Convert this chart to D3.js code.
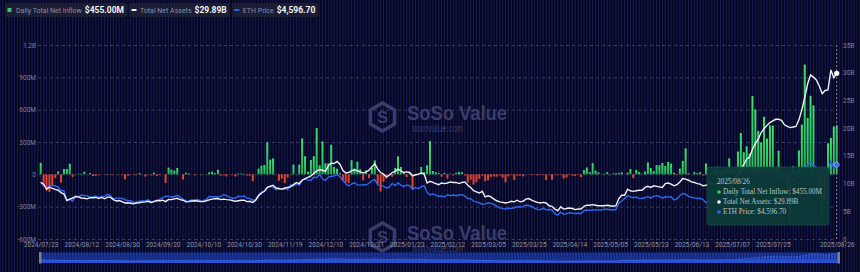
<!DOCTYPE html>
<html><head><meta charset="utf-8">
<script src="https://cdn.jsdelivr.net/npm/d3@7/dist/d3.min.js"></script>
<style>html,body{margin:0;padding:0;background:#06071a;overflow:hidden}svg{display:block}</style>
</head><body><svg id="c" width="860" height="272"></svg>
<script>
// ---------------- DATA ----------------
const startDate = "2024-07-23", endDate = "2025-08-26";
const holidays = ["2024-09-02","2024-11-28","2024-12-25","2025-01-01","2025-01-09","2025-01-20","2025-02-17","2025-04-18","2025-05-26","2025-06-19","2025-07-04"];
// Daily total net inflow ($M)
const inflow = [
 106.6,-113.3,-152.3,-162.7,-98.3,-33.7,26.7,
 -77.2,48.8,48.7,98.4,-23.7,-2.0,5.8,4.9,24.3,-0.2,10.8,-15.7,-13.5,-6.5,-0.9,-0.8,-5.7,2.8,-3.5,-0.2,-1.8,-5.2,
 -47.4,-12.0,-0.2,-6.0,-5.2,11.4,-0.1,-20.1,1.1,-9.4,15.1,-15.1,-5.2,-0.9,-79.4,62.5,43.2,33.6,58.7,0.7,
 -48.6,14.5,7.4,-0.1,-8.2,0.0,-3.2,1.7,-2.0,18.8,24.2,10.5,43.0,-12.0,-8.1,-19.2,-1.1,-6.5,-19.2,6.4,7.6,4.3,-10.9,
 -10.9,-63.2,0.0,52.3,79.7,85.9,295.5,135.9,146.9,-3.2,-59.8,-39.1,-81.3,-30.3,2.8,91.2,2.8,90.1,332.9,167.7,
 24.2,132.6,167.7,428.5,83.8,305.7,102.1,102.0,273.7,68.0,52.0,10.0,-60.5,-75.1,-80.0,130.8,53.6,117.2,47.1,-55.4,35.9,
 -35.0,58.9,128.7,-86.8,-159.4,-68.6,-39.4,5.0,-22.0,59.8,166.6,68.0,14.0,-25.0,12.0,-136.2,-15.0,-8.0,67.8,22.0,
 83.5,307.8,30.0,18.9,10.7,-22.5,12.6,-40.0,5.0,-8.0,14.0,22.0,20.0,-10.0,-78.1,-50.1,-94.3,-71.3,-41.8,
 -12.0,-63.3,-55.0,-23.1,-20.0,-21.6,-10.4,-30.0,-73.6,-20.0,-7.3,-52.8,-12.0,-11.8,-18.6,0.0,-3.3,-5.9,-4.2,-8.3,-6.3,
 -3.6,-52.8,-3.6,-49.8,-3.3,-7.9,-3.3,-38.3,-29.8,-5.0,-12.0,-15.0,-5.0,-25.0,38.8,63.5,20.0,104.1,35.0,18.4,-2.3,
 5.0,20.0,-3.0,8.0,10.0,12.0,18.0,-2.0,15.0,50.0,-35.0,41.7,22.0,5.0,25.0,110.5,58.0,30.0,84.9,84.0,105.0,
 78.2,115.0,99.0,15.0,-6.0,52.7,124.9,240.3,10.0,-2.1,21.4,11.1,19.1,-11.3,100.8,-5.0,20.0,30.0,70.0,15.0,
 40.7,64.1,148.5,62.1,46.3,211.3,383.1,204.9,259.0,192.3,726.7,602.0,402.5,296.5,533.9,332.2,453.8,452.7,65.1,218.6,5.8,17.0,
 -152.3,-465.1,73.3,35.1,222.3,461.7,1018.7,523.9,729.1,639.6,-59.3,-196.6,-429.7,-240.1,287.6,337.7,443.9,455.0
];
// Total net assets ($B)
const netAssets = [
 10.24,9.90,9.02,9.35,9.15,8.95,8.80,
 8.35,8.1,6.95,7.2,7.4,7.65,7.6,7.4,7.35,7.25,7.45,7.45,7.5,7.3,7.5,7.25,7.55,7.55,7.1,6.85,6.95,6.75,
 6.5,6.55,6.45,6.35,6.5,6.55,6.65,6.7,6.8,6.6,6.75,6.95,6.9,7.0,6.75,7.15,7.1,7.25,7.35,7.1,
 7.0,6.7,6.75,6.85,6.9,6.85,6.75,6.75,6.9,7.05,7.2,7.25,7.3,7.1,7.2,7.1,7.05,6.95,6.8,6.9,7.0,7.0,6.75,
 6.8,6.6,7.0,7.8,8.3,8.6,9.3,9.5,9.7,9.2,9.1,9.0,9.2,9.3,9.4,9.8,10.2,10.0,10.6,10.9,
 11.1,11.4,11.8,12.3,12.5,12.4,12.2,13.2,13.7,13.6,14.0,13.5,12.4,11.9,12.0,12.3,12.5,12.3,12.1,11.9,12.1,
 12.4,13.0,13.6,12.6,12.0,11.7,11.2,11.5,12.0,12.2,12.6,12.3,12.0,12.1,12.0,11.4,11.6,11.7,11.9,11.7,
 10.1,10.4,10.2,10.0,9.8,10.1,10.0,10.1,10.3,10.2,10.2,10.0,10.2,10.3,9.7,9.3,8.7,8.5,8.3,
 8.6,7.6,7.8,7.6,7.2,6.9,6.7,6.6,6.5,6.6,6.8,6.7,7.0,6.7,6.8,7.2,7.3,7.0,6.8,6.6,6.5,
 6.6,6.5,6.0,5.9,5.4,5.1,5.8,5.4,5.5,5.6,5.5,5.3,5.4,5.4,5.9,6.1,6.1,6.2,6.1,6.0,6.0,
 6.0,6.1,6.0,5.9,6.0,7.3,7.9,7.9,9.0,8.7,8.6,8.7,8.8,8.8,9.3,9.5,9.3,9.6,9.5,9.4,9.3,
 10.0,10.1,9.9,9.6,9.8,10.3,10.9,10.8,10.6,10.3,10.2,10.0,9.9,9.6,9.7,9.9,10.0,9.9,10.1,10.0,
 10.2,10.6,10.9,10.6,10.8,11.6,12.6,13.4,14.4,14.8,16.2,17.2,18.0,19.2,19.9,20.5,21.0,21.3,21.6,21.6,21.4,20.6,
 20.3,20.1,20.2,20.3,21.5,23.3,25.5,28.0,29.6,29.2,28.7,27.6,26.2,26.8,26.9,30.5,29.1,29.89
];
// ETH price ($)
const ethPrice = [
 3480,3340,3170,3280,3320,3280,3230,
 2980,2990,2420,2460,2340,2680,2600,2720,2700,2660,2590,2610,2640,2570,2630,2620,2760,2680,2460,2530,2530,2510,
 2430,2370,2370,2260,2300,2340,2350,2360,2420,2300,2340,2370,2460,2560,2640,2650,2580,2630,2700,2600,
 2450,2360,2350,2410,2420,2440,2370,2390,2440,2630,2610,2610,2600,2640,2750,2670,2590,2520,2520,2640,2620,2660,2520,
 2510,2400,2430,2720,2900,2960,3180,3270,3190,3060,3100,3080,3110,3060,3350,3280,3420,3320,3650,3700,
 3640,3620,3830,3790,4000,3710,3630,3830,3880,3900,3980,3850,3630,3420,3280,3400,3490,3330,3330,3360,3340,
 3450,3600,3690,3350,3320,3270,3140,3220,3440,3300,3470,3330,3240,3340,3300,3060,3180,3110,3240,3300,
 2880,2730,2790,2720,2630,2660,2600,2740,2680,2720,2680,2720,2740,2660,2500,2490,2340,2300,2240,
 2150,2170,2240,2200,2140,2020,1920,1880,1860,1910,1890,1930,2010,1980,2000,2090,2070,2010,1890,1830,1820,
 1900,1800,1820,1810,1550,1470,1670,1520,1570,1620,1590,1580,1590,1580,1750,1790,1770,1790,1800,1800,1790,
 1840,1840,1810,1815,1810,2210,2350,2500,2680,2610,2550,2600,2500,2520,2550,2630,2530,2640,2680,2630,2530,
 2610,2590,2610,2410,2480,2680,2820,2770,2640,2580,2540,2510,2520,2430,2240,2420,2450,2420,2430,2490,
 2400,2580,2590,2540,2600,2770,2950,2960,3010,3130,3370,3470,3550,3750,3740,3620,3700,3720,3800,3790,3800,3700,
 3480,3720,3610,3680,3900,3900,4220,4600,4750,4560,4440,4300,4170,4340,4230,4830,4380,4596.70
];
const leftTicks = [-600,-300,0,300,600,900,1200];
const rightTicks = [0,5,10,15,20,25,30,35];
const labelEvery = 14;
const legendItems = [
  {name:"Daily Total Net Inflow", value:"$455.00M"},
  {name:"Total Net Assets", value:"$29.89B"},
  {name:"ETH Price", value:"$4,596.70"}
];
const tooltipLines = ["Daily Total Net Inflow: $455.00M","Total Net Assets: $29.89B","ETH Price: $4,596.70"];

// ---------------- BUILD ----------------
function tradingDays(a,b){
  const out=[]; let d=new Date(a+"T00:00:00Z"); const e=new Date(b+"T00:00:00Z");
  while(d<=e){const wd=d.getUTCDay(); const s=d.toISOString().slice(0,10);
    if(wd!==0&&wd!==6&&!holidays.includes(s)) out.push(s); d=new Date(d.getTime()+864e5);}
  return out;
}
const dates = tradingDays(startDate,endDate);
const n = Math.min(dates.length, inflow.length, netAssets.length, ethPrice.length);
const data = d3.range(n).map(i=>({d:dates[i], f:inflow[i], a:netAssets[i], p:ethPrice[i]}));

const svg = d3.select("#c");
const W=860,H=272;
const x = d3.scalePoint().domain(data.map(d=>d.d)).range([40.7,836.7]);
const yL = d3.scaleLinear().domain([-600,1200]).range([239,45]);
const yR = d3.scaleLinear().domain([0,35]).range([239,45]);
const yE = d3.scaleLinear().domain([0,12000]).range([239,45]);
const step = x.step();

// background
svg.append("rect").attr("width",W).attr("height",H).attr("fill","#06071a");
const stripes = svg.append("g");
for(let k=-16;k<n+12;k++){
  const cx = x.range()[0]+k*step;
  stripes.append("rect").attr("x",cx-0.5).attr("y",0).attr("width",1).attr("height",H).attr("fill","#161a5c");
}

// watermarks
function watermark(ox,oy){
  const g = svg.append("g").attr("transform",`translate(${ox},${oy})`);
  const cx=12.5, cy=15, r=14;
  const hex = d3.range(6).map(i=>{const a=Math.PI/3*i+Math.PI/6; return [cx+r*Math.cos(a), cy+r*Math.sin(a)];});
  g.append("path").attr("d","M"+hex.map(p=>p.join(",")).join("L")+"Z")
    .attr("fill","none").attr("stroke","#3a3c6c").attr("stroke-width",3.5).attr("stroke-linejoin","round");
  g.append("text").attr("x",cx).attr("y",cy+6).attr("text-anchor","middle")
    .attr("font-family","Liberation Sans, Arial, sans-serif").attr("font-weight","bold").attr("font-size",16)
    .attr("fill","#3a3c6c").text("S");
  g.append("text").attr("x",37).attr("y",18).attr("font-family","Liberation Sans, Arial, sans-serif")
    .attr("font-weight","bold").attr("font-size",21).attr("textLength",100).attr("lengthAdjust","spacingAndGlyphs")
    .attr("fill","#3a3c6c").text("SoSo Value");
  g.append("text").attr("x",42).attr("y",30).attr("font-family","Liberation Sans, Arial, sans-serif")
    .attr("font-size",10).attr("textLength",51).attr("lengthAdjust","spacingAndGlyphs")
    .attr("fill","#3a3c6c").text("sosovalue.com");
}
watermark(370,102);
watermark(370,222);

// left axis + grid
const fmtL = v => v===0 ? "0" : (Math.abs(v)>=1000 ? (v/1000)+"B" : v+"M");
const gL = svg.append("g").attr("transform","translate(38,0)")
  .call(d3.axisLeft(yL).tickValues(leftTicks).tickFormat(fmtL).tickSize(-798).tickPadding(2));
gL.select(".domain").remove();
gL.selectAll(".tick line").attr("stroke","#363c62").attr("stroke-dasharray","3,3");
gL.selectAll(".tick text").attr("fill","#7d8299").attr("font-size",6.5).attr("font-family","Roboto, Liberation Sans, sans-serif");

// right axis
const gR = svg.append("g").attr("transform","translate(837,0)")
  .call(d3.axisRight(yR).tickValues(rightTicks).tickFormat(v=>v===0?"0":v+"B").tickSize(0).tickPadding(6));
gR.select(".domain").remove();
gR.selectAll(".tick text").attr("fill","#7d8299").attr("font-size",6.5).attr("font-family","Roboto, Liberation Sans, sans-serif");

// x axis
const xTicks = data.map(d=>d.d).filter((d,i)=>(i%labelEvery===0 && (n-1-i)>=labelEvery) || i===n-1);
const gX = svg.append("g").attr("transform","translate(0,239)")
  .call(d3.axisBottom(x).tickValues(xTicks).tickFormat(d=>d.replace(/-/g,"/")).tickSize(0).tickPadding(3));
gX.select(".domain").remove();
gX.selectAll(".tick text").attr("fill","#8d93a8").attr("font-size",6.5).attr("font-family","Roboto, Liberation Sans, sans-serif");

// bars
const grad = svg.append("defs").append("linearGradient").attr("id","gg").attr("x1",0).attr("y1",0).attr("x2",0).attr("y2",1);
grad.append("stop").attr("offset","0%").attr("stop-color","#3fe07a");
grad.append("stop").attr("offset","100%").attr("stop-color","#22b85a");
svg.append("g").selectAll("rect").data(data).join("rect")
  .attr("x",d=>x(d.d)-1).attr("width",2)
  .attr("y",d=>Math.min(yL(d.f),yL(0))).attr("height",d=>Math.abs(yL(d.f)-yL(0)))
  .attr("fill",d=>d.f>=0?"url(#gg)":"#e2453a");

// lines
svg.append("path").datum(data).attr("fill","none").attr("stroke","#2f66f0").attr("stroke-width",1.4)
  .attr("d",d3.line().x(d=>x(d.d)).y(d=>yE(d.p)));
svg.append("path").datum(data).attr("fill","none").attr("stroke","#eef0f6").attr("stroke-width",1.4)
  .attr("d",d3.line().x(d=>x(d.d)).y(d=>yR(d.a)));

// axis pointer
const last = data[n-1];
svg.append("line").attr("x1",x(last.d)).attr("x2",x(last.d)).attr("y1",45).attr("y2",239)
  .attr("stroke","#7c8296").attr("stroke-dasharray","2,2").attr("stroke-width",1);
svg.append("circle").attr("cx",x(last.d)).attr("cy",yR(last.a)).attr("r",2.6).attr("fill","#ffffff");
svg.append("circle").attr("cx",x(last.d)).attr("cy",yE(last.p)).attr("r",2.4).attr("fill","#2f66f0").attr("stroke","#9ab4ff").attr("stroke-width",0.8);

// tooltip
const tt = svg.append("g").attr("transform","translate(707,167)");
tt.append("rect").attr("width",122).attr("height",58).attr("rx",3).attr("fill","#0d3a39").attr("fill-opacity",0.95)
  .attr("stroke","#1d5452").attr("stroke-width",0.6);
tt.append("text").attr("x",10).attr("y",17).attr("font-family","Liberation Serif, Times New Roman, serif")
  .attr("font-size",7.2).attr("fill","#b9c6c4").text(last.d.replace(/-/g,"/"));
const dotCols = ["#2ed06a","#ffffff","#2f66f0"];
tooltipLines.forEach((t,i)=>{
  tt.append("circle").attr("cx",12).attr("cy",25+i*10).attr("r",1.8).attr("fill",dotCols[i]);
  tt.append("text").attr("x",16).attr("y",27.3+i*10).attr("font-family","Liberation Serif, Times New Roman, serif")
    .attr("font-size",7.2).attr("fill","#b9c6c4").text(t);
});

// slider
const sx = d3.scalePoint().domain(data.map(d=>d.d)).range([41,838]);
const sy = d3.scaleLinear().domain([0,32]).range([263,253]);
const sl = svg.append("g");
sl.append("rect").attr("x",40).attr("y",252.5).attr("width",799).attr("height",10.5).attr("fill","#1b379c");
sl.append("path").datum(data).attr("fill","#2a52d4").attr("fill-opacity",0.9)
  .attr("d",d3.area().x(d=>sx(d.d)).y0(263).y1(d=>sy(d.a)));
sl.append("path").datum(data).attr("fill","none").attr("stroke","#3c68ea").attr("stroke-width",0.8)
  .attr("d",d3.line().x(d=>sx(d.d)).y(d=>sy(d.a)));
for(let k=0;k<n;k+=1){
  sl.append("rect").attr("x",sx(data[k].d)+0.8).attr("y",252.5).attr("width",1).attr("height",7).attr("fill","#0b1446").attr("opacity",0.6);
}
sl.append("rect").attr("x",39).attr("y",252).attr("width",2.5).attr("height",11.5).attr("fill","#7a7f90");
sl.append("rect").attr("x",837.5).attr("y",252).attr("width",2.5).attr("height",11.5).attr("fill","#7a7f90");

// legend
const lg = svg.append("g").attr("font-family","Roboto, Liberation Sans, sans-serif");
let lx = 5;
legendItems.forEach((it,i)=>{
  const g = lg.append("g").attr("transform",`translate(${lx},3)`);
  const bg = g.append("rect").attr("y",0).attr("height",14).attr("rx",2).attr("fill","#1a1d33");
  if(i===0){
    g.append("rect").attr("x",2.5).attr("y",5).attr("width",4).attr("height",4).attr("fill","#2ed06a");
    g.append("rect").attr("x",5).attr("y",7.5).attr("width",1.5).attr("height",1.5).attr("fill","#e2453a");
  } else {
    g.append("rect").attr("x",2.5).attr("y",6).attr("width",5).attr("height",2).attr("fill",i===1?"#eef0f6":"#2f66f0");
  }
  const t1 = g.append("text").attr("x",11).attr("y",10).attr("font-size",7).attr("fill","#8a8fa6").text(it.name);
  const w1 = t1.node().getComputedTextLength();
  const t2 = g.append("text").attr("x",11+w1+3).attr("y",10.3).attr("font-size",8.5).attr("font-weight","bold").attr("fill","#f2f3f7").text(it.value);
  const w2 = t2.node().getComputedTextLength();
  const bw = 11+w1+3+w2+3;
  bg.attr("width",bw);
  lx += bw+2;
});
</script>
</body></html>
